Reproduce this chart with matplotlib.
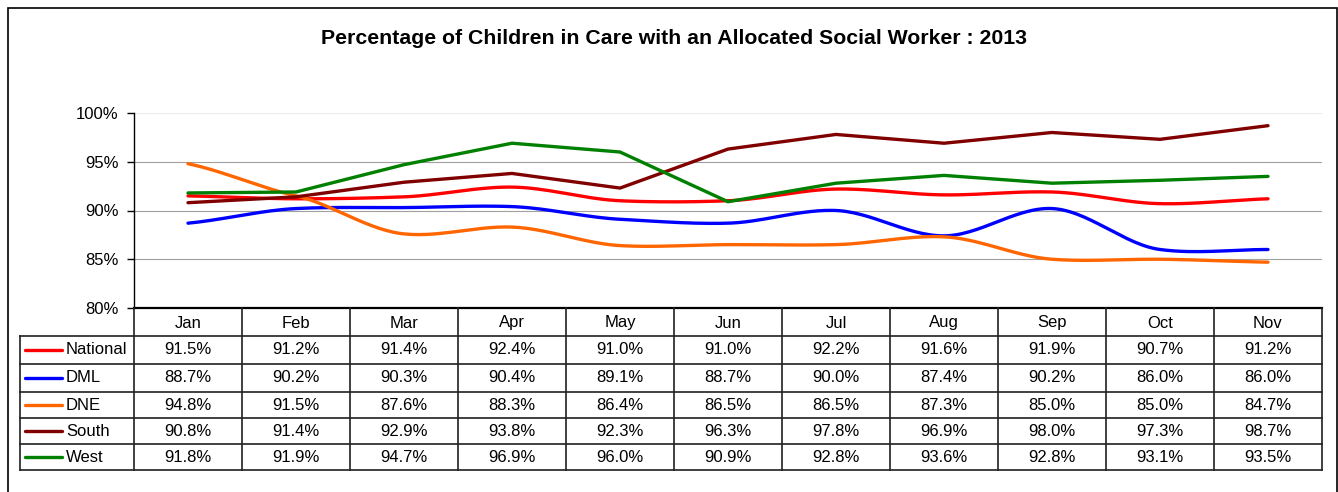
import numpy as np
import matplotlib.pyplot as plt
from matplotlib.lines import Line2D

months = ['Jan', 'Feb', 'Mar', 'Apr', 'May', 'Jun', 'Jul', 'Aug', 'Sep', 'Oct', 'Nov']
series_names = ['National', 'DML', 'DNE', 'South', 'West']
national = [91.5, 91.2, 91.4, 92.4, 91.0, 91.0, 92.2, 91.6, 91.9, 90.7, 91.2]
dml = [88.7, 90.2, 90.3, 90.4, 89.1, 88.7, 90.0, 87.4, 90.2, 86.0, 86.0]
dne = [94.8, 91.5, 87.6, 88.3, 86.4, 86.5, 86.5, 87.3, 85.0, 85.0, 84.7]
south = [90.8, 91.4, 92.9, 93.8, 92.3, 96.3, 97.8, 96.9, 98.0, 97.3, 98.7]
west = [91.8, 91.9, 94.7, 96.9, 96.0, 90.9, 92.8, 93.6, 92.8, 93.1, 93.5]
colors = ['#ff0000', '#0000ff', '#ff6600', '#800000', '#008000']
smoothed = [True, True, True, False, False]
y_ticks = [80, 85, 90, 95, 100]

plt.rcParams['font.family'] = ['Liberation Sans', 'DejaVu Sans']

W, H = 1338, 492


def fx(px):
    return px / W


def fy(py):
    return 1 - py / H


def smooth(y, k=0.35, n=30):
    """Cubic Hermite curve through the points (a gentler Catmull-Rom)."""
    y = np.asarray(y, dtype=float)
    x = np.arange(len(y), dtype=float)
    py = np.concatenate([[2 * y[0] - y[1]], y, [2 * y[-1] - y[-2]]])
    t = np.linspace(0, 1, n, endpoint=False)
    h00 = 2 * t ** 3 - 3 * t ** 2 + 1
    h10 = t ** 3 - 2 * t ** 2 + t
    h01 = -2 * t ** 3 + 3 * t ** 2
    h11 = t ** 3 - t ** 2
    xs, ys = [], []
    for i in range(1, len(py) - 2):
        m1 = k * (py[i + 1] - py[i - 1])
        m2 = k * (py[i + 2] - py[i])
        xs.append(x[i - 1] + t)
        ys.append(h00 * py[i] + h10 * m1 + h01 * py[i + 1] + h11 * m2)
    xs.append([x[-1]])
    ys.append([y[-1]])
    return np.concatenate(xs), np.concatenate(ys)


fig = plt.figure(figsize=(W / 100, H / 100), dpi=100)

# outer chart border (bottom edge lies below the picture)
fig.add_artist(plt.Rectangle((fx(8), fy(500)), fx(1337) - fx(8), fy(8) - fy(500),
                             transform=fig.transFigure, fill=False, lw=1.2, ec='black'))

fig.text(fx(674), fy(39), 'Percentage of Children in Care with an Allocated Social Worker : 2013',
         ha='center', va='center', fontsize=15.3, fontweight='bold')

left, right, top, bottom = 134, 1322, 113, 308
ax = fig.add_axes([fx(left), fy(bottom), fx(right) - fx(left), fy(top) - fy(bottom)])

all_series = [national, dml, dne, south, west]
for vals, c, sm in zip(all_series, colors, smoothed):
    if sm:
        sx, sy = smooth(vals)
    else:
        sx, sy = np.arange(len(vals)), vals
    ax.plot(sx, sy, color=c, lw=2.4, solid_capstyle='round', solid_joinstyle='miter')

ax.set_xlim(-0.5, len(months) - 0.5)
ax.set_ylim(80, 100)
ax.set_yticks(y_ticks)
ax.set_yticklabels([f'{t}%' for t in y_ticks], fontsize=12)
ax.set_xticks([])
for t in y_ticks[1:4]:
    ax.axhline(t, color='#a0a0a0', lw=0.8, zorder=0)
ax.axhline(100, color='#ececec', lw=0.8, zorder=0)
for s in ['top', 'right', 'bottom']:
    ax.spines[s].set_visible(False)
ax.spines['left'].set_linewidth(1.0)
ax.tick_params(axis='y', length=5, width=1, pad=6)

# data table
col_w = (right - left) / len(months)
row_y = [308, 336, 364, 392, 418, 444, 470]
tab_left = 20
lk = dict(transform=fig.transFigure, color='#202020', lw=1.2)
fig.add_artist(Line2D([fx(left), fx(right)], [fy(row_y[0])] * 2, lw=1.6, color='black',
                      transform=fig.transFigure))
for ry in row_y[1:]:
    fig.add_artist(Line2D([fx(tab_left), fx(right)], [fy(ry)] * 2, **lk))
fig.add_artist(Line2D([fx(tab_left)] * 2, [fy(row_y[1]), fy(row_y[-1])], **lk))
for i in range(len(months) + 1):
    xx = left + i * col_w
    fig.add_artist(Line2D([fx(xx)] * 2, [fy(row_y[0]), fy(row_y[-1])], **lk))

for i, m in enumerate(months):
    cx = left + (i + 0.5) * col_w
    fig.text(fx(cx), fy((row_y[0] + row_y[1]) / 2 + 1), m, ha='center', va='center', fontsize=12)
    for r, vals in enumerate(all_series):
        cy = (row_y[r + 1] + row_y[r + 2]) / 2
        fig.text(fx(cx), fy(cy), f'{vals[i]:.1f}%', ha='center', va='center', fontsize=12)

for r, (name, c) in enumerate(zip(series_names, colors)):
    cy = (row_y[r + 1] + row_y[r + 2]) / 2
    fig.add_artist(Line2D([fx(25), fx(62)], [fy(cy)] * 2, color=c, lw=2.4,
                          solid_capstyle='round', transform=fig.transFigure))
    fig.text(fx(66), fy(cy), name, ha='left', va='center', fontsize=12)

fig.savefig('out.png', dpi=100)
